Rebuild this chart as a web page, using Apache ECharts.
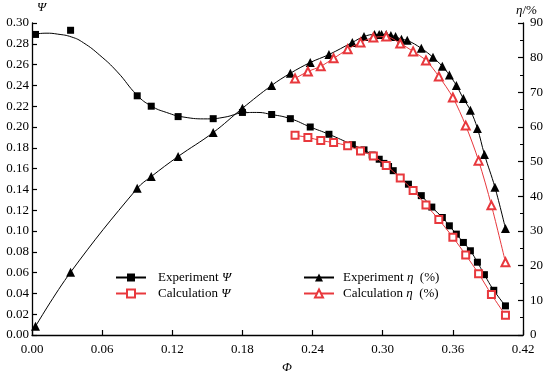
<!DOCTYPE html>
<html>
<head>
<meta charset="utf-8">
<script src="https://cdn.jsdelivr.net/npm/echarts@6/dist/echarts.min.js"></script>
<style>html,body{margin:0;padding:0;background:#fff;}#c{width:550px;height:378px;}</style>
</head>
<body>
<div id="c"></div>
<script>
// Experiment Ψ (points)
const expPsiPhi = [0.003,0.033,0.090,0.102,0.125,0.155,0.180,0.205,0.221,0.238,0.254,0.274,0.284,0.291,0.297,0.301,0.305,0.309,0.315,0.322,0.333,0.342,0.351,0.357,0.363,0.369,0.375,0.381,0.387,0.395,0.405];
const expPsiVal = [0.289,0.293,0.230,0.220,0.210,0.208,0.214,0.212,0.208,0.200,0.193,0.183,0.178,0.173,0.169,0.165,0.162,0.158,0.151,0.145,0.134,0.123,0.113,0.105,0.097,0.089,0.081,0.070,0.058,0.043,0.028];
// Experiment Ψ fitted curve (low-flow part)
const fitPsiPhi = [0.003,0.012,0.022,0.034,0.044,0.058,0.073,0.090,0.102,0.115,0.130,0.150,0.165,0.180,0.192];
const fitPsiVal = [0.2894,0.2902,0.2893,0.2865,0.2810,0.2690,0.2530,0.2305,0.2202,0.2140,0.2095,0.2078,0.2095,0.2135,0.2140];
// Calculation
const calPhi = [0.225,0.236,0.247,0.258,0.270,0.281,0.292,0.303,0.315,0.326,0.337,0.348,0.360,0.371,0.382,0.393,0.405];
const calPsi = [0.192,0.190,0.187,0.185,0.182,0.177,0.172,0.163,0.151,0.139,0.125,0.111,0.094,0.077,0.059,0.039,0.019];
const calEta = [74.0,76.0,77.5,79.8,82.4,84.4,85.8,86.1,84.1,81.8,79.2,74.6,68.5,60.4,50.3,37.4,21.0];
// Experiment η
const expEtaPhi = [0.003,0.033,0.090,0.102,0.125,0.155,0.180,0.205,0.221,0.238,0.254,0.274,0.284,0.293,0.297,0.299,0.303,0.307,0.311,0.316,0.321,0.333,0.343,0.351,0.357,0.363,0.369,0.375,0.381,0.387,0.396,0.405];
const expEtaVal = [2.5,18.1,42.3,45.7,51.5,58.4,65.4,72.0,75.5,78.6,80.9,84.4,86.1,86.7,86.7,86.7,86.7,86.4,86.1,85.3,85.0,82.7,80.1,77.5,75.0,72.0,68.2,64.8,59.6,52.1,42.6,30.7];
// Axes
const xTicks = [0.00,0.06,0.12,0.18,0.24,0.30,0.36,0.42];
const psiTicks = [0,0.30,0.02];
const etaTicks = [0,90,10];

const zip = (a,b) => a.map((v,i)=>[v,b[i]]);
const fitLine = zip(fitPsiPhi, fitPsiVal).concat(zip(expPsiPhi, expPsiVal).filter(p => p[0] >= 0.2));

const RED = '#e8383d';
const FONT = 'Liberation Serif';
const chart = echarts.init(document.getElementById('c'), null, {renderer:'canvas'});
const axisCommon = {
  axisLine:{show:true, lineStyle:{color:'#000', width:1.3}},
  axisTick:{show:true, inside:true, length:5, lineStyle:{color:'#000', width:1.2}},
  axisLabel:{color:'#000', fontFamily:FONT, fontSize:13},
  splitLine:{show:false}
};
const rich = {i:{fontStyle:'italic', fontFamily:FONT, fontSize:13, color:'#000'}};
chart.setOption({
  animation:false,
  backgroundColor:'#fff',
  grid:{left:32, right:27, top:23, bottom:43},
  legend:[
    {data:['Experiment Ψ','Calculation Ψ'], left:110, top:266, orient:'vertical', itemWidth:30, itemHeight:10, itemGap:3,
     textStyle:{fontFamily:FONT, fontSize:13, color:'#000', padding:[0,0,0,7], rich:rich},
     formatter: n => n.replace(' Ψ',' {i|Ψ}')},
    {data:['Experiment η','Calculation η'], left:298, top:266, orient:'vertical', itemWidth:30, itemHeight:10, itemGap:3,
     textStyle:{fontFamily:FONT, fontSize:13, color:'#000', padding:[0,0,0,4], rich:rich},
     formatter: n => n.replace(' η',' {i|η}  (%)')}
  ],
  xAxis:{type:'value', min:xTicks[0], max:xTicks[xTicks.length-1], interval:xTicks[1]-xTicks[0], ...axisCommon,
    axisLabel:{...axisCommon.axisLabel, margin:8, formatter:v=>v.toFixed(2)}},
  yAxis:[
    {type:'value', min:psiTicks[0], max:psiTicks[1], interval:psiTicks[2], position:'left', ...axisCommon,
     axisLabel:{...axisCommon.axisLabel, margin:3, formatter:v=>v.toFixed(2)}},
    {type:'value', min:etaTicks[0], max:etaTicks[1], interval:etaTicks[2], position:'right', ...axisCommon,
     minorTick:{show:true, splitNumber:2, length:3, lineStyle:{color:'#000', width:1}},
     axisLabel:{...axisCommon.axisLabel, margin:7}}
  ],
  graphic:[
    {type:'text', left:37, top:1, style:{text:'Ψ', font:'italic 13px "Liberation Serif"', fill:'#000'}},
    {type:'text', left:516, top:4, style:{text:'{i|η}/%', font:'13px "Liberation Serif"', fill:'#000', rich:rich}},
    {type:'text', left:282, top:361, style:{text:'Φ', font:'italic 13px "Liberation Serif"', fill:'#000'}}
  ],
  series:[
    {name:'Experiment Ψ', type:'line', yAxisIndex:0, data:fitLine, smooth:0.5, showSymbol:false, symbol:'rect', symbolSize:7,
     lineStyle:{color:'#000', width:1}, itemStyle:{color:'#000'}, z:3},
    {name:'Experiment Ψ pts', type:'scatter', yAxisIndex:0, data:zip(expPsiPhi, expPsiVal), symbol:'rect', symbolSize:7,
     itemStyle:{color:'#000', opacity:1}, z:4},
    {name:'Calculation Ψ', type:'line', yAxisIndex:0, data:zip(calPhi, calPsi), smooth:0.3, symbol:'emptyRect', symbolSize:7,
     showAllSymbol:true, lineStyle:{color:RED, width:1}, itemStyle:{color:RED, borderColor:RED, borderWidth:1}, z:5},
    {name:'Experiment η', type:'line', yAxisIndex:1, data:zip(expEtaPhi, expEtaVal), smooth:0.4, symbol:'triangle', symbolSize:9,
     showAllSymbol:true, lineStyle:{color:'#000', width:1}, itemStyle:{color:'#000'}, z:3},
    {name:'Calculation η', type:'line', yAxisIndex:1, data:zip(calPhi, calEta), smooth:0.3, symbol:'emptyTriangle', symbolSize:8,
     showAllSymbol:true, lineStyle:{color:RED, width:1}, itemStyle:{color:RED, borderColor:RED, borderWidth:1}, z:5}
  ]
});
</script>
</body>
</html>
